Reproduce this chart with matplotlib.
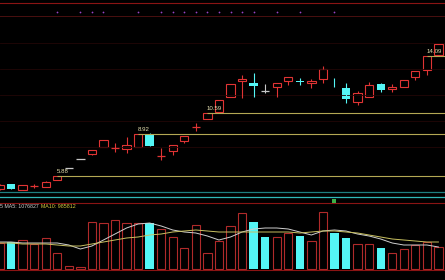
import matplotlib
matplotlib.use('Agg')
import matplotlib.pyplot as plt
import numpy as np

# daily candles, oldest first
opens  = [4.91, 5.28, 4.83, 5.13, 5.06, 5.58, 6.48, 7.16, 7.53, 8.06,
          7.98, 7.91, 8.06, 9.03, 7.38, 7.76, 8.51, 9.56, 10.16, 10.68,
          11.81, 13.01, 12.86, 12.26, 12.56, 13.01, 13.01, 12.86, 13.16, 12.56,
          12.48, 11.43, 11.81, 12.78, 12.41, 12.56, 13.31, 13.83, 14.96]
highs  = [5.28, 5.28, 5.21, 5.28, 5.51, 5.88, 6.48, 7.16, 7.83, 8.58,
          8.36, 8.81, 9.03, 9.11, 7.98, 8.21, 8.88, 9.86, 10.61, 11.58,
          12.78, 13.46, 13.61, 12.78, 12.86, 13.31, 13.23, 13.16, 14.13, 13.23,
          12.86, 12.26, 12.93, 12.86, 12.78, 13.08, 13.76, 14.88, 15.78]
lows   = [4.83, 4.91, 4.83, 4.98, 5.06, 5.58, 6.48, 7.16, 7.46, 8.06,
          7.68, 7.61, 8.06, 8.13, 7.08, 7.46, 8.36, 9.26, 10.16, 10.68,
          11.81, 11.73, 11.81, 12.11, 11.81, 12.71, 12.71, 12.48, 12.86, 12.52,
          11.36, 11.21, 11.81, 12.18, 12.18, 12.56, 13.08, 13.46, 14.96]
closes = [5.21, 4.91, 5.21, 5.13, 5.43, 5.88, 6.48, 7.16, 7.83, 8.58,
          7.98, 8.21, 9.03, 8.13, 7.38, 8.21, 8.88, 9.56, 10.61, 11.58,
          12.78, 13.16, 12.63, 12.26, 12.86, 13.31, 12.93, 13.01, 13.91, 12.52,
          11.66, 12.11, 12.71, 12.33, 12.56, 13.08, 13.76, 14.88, 15.78]
# u = up (red), d = down (cyan), n = flat (gray)
kinds     = "uduuuunnuu" "uuuduuuuuu" "uudnuuduud" "duuduuuuu"
vol_kinds = "uduuuuuuuu" "uuuduuuuuu" "uudduuduud" "duuduuuuu"

volumes = [1170000, 1215000, 1305000, 1125000, 1395000, 720000, 135000, 90000, 2115000, 2070000,
           2205000, 2070000, 2070000, 2070000, 1800000, 1440000, 945000, 1980000, 720000, 1260000,
           1935000, 2520000, 2115000, 1440000, 1440000, 1620000, 1485000, 1260000, 2565000, 1620000,
           1395000, 1125000, 1125000, 945000, 720000, 900000, 1080000, 1215000, 990000]
ma5  = [1215000, 1215000, 1170000, 1170000, 1170000, 1170000, 1080000, 900000, 1035000, 1305000,
        1575000, 1845000, 2025000, 2070000, 1935000, 1755000, 1665000, 1620000, 1485000, 1305000,
        1440000, 1665000, 1800000, 1845000, 1845000, 1800000, 1665000, 1530000, 1710000, 1755000,
        1710000, 1575000, 1485000, 1350000, 1170000, 1080000, 1080000, 1080000, 990000]
ma10 = [1170000, 1170000, 1125000, 1125000, 1125000, 1080000, 1035000, 1035000, 1125000, 1215000,
        1305000, 1395000, 1440000, 1530000, 1575000, 1665000, 1710000, 1755000, 1710000, 1665000,
        1665000, 1665000, 1665000, 1665000, 1665000, 1665000, 1620000, 1665000, 1710000, 1710000,
        1665000, 1620000, 1530000, 1440000, 1350000, 1305000, 1260000, 1215000, 1215000]

mark_idx = [5, 7, 8, 9, 12, 14, 15, 16, 17, 18, 19, 20, 21, 22, 24, 26, 29]
level_idx = [5, 12, 18, 37]
level_text = ['5.88', '8.92', '10.59', '14.09']
signal_idx = [29]

RED = '#e03434'
VRED = '#b02a2a'
CYAN = '#54f6f6'
GRAY = '#c8c8c8'
GOLD = '#b4a854'
BORDER = '#8a1414'
FONT = 'Liberation Sans'

n = len(opens)
x = np.arange(n)
w = 0.72

fig = plt.figure(figsize=(4.45, 2.8), dpi=100, facecolor='black')
axp = fig.add_axes([0, 80/280, 1, 200/280])
axv = fig.add_axes([0, 0, 1, 80/280])
for ax in (axp, axv):
    ax.set_facecolor('black')
    ax.set_xlim(0.043, 38.57)
    ax.set_axis_off()
axp.set_ylim(4.08, 19.08)
axv.set_ylim(-495000, 3105000)

# faint grid + frame lines
for g in [15.855, 13.905, 11.955, 10.005, 8.055]:
    axp.axhline(g, color='#220606', lw=0.6)
axp.axhline(18.855, color=BORDER, lw=0.8)
axp.axhline(17.88, color='#4a1010', lw=0.7)
axp.axhline(4.68, color='#1f7f80', lw=0.9)
axp.axhline(4.305, color='#30b8b8', lw=0.9)

# candles
for i in range(n):
    o, h, l, c = opens[i], highs[i], lows[i], closes[i]
    col = {'u': RED, 'd': CYAN, 'n': GRAY}[kinds[i]]
    top = max(o, c)
    bot = min(o, c)
    if abs(c - o) < 0.02:
        axp.hlines(c, i - w/2, i + w/2, color=col, lw=0.9)
        axp.vlines(i, l, h, color=col, lw=0.8)
    elif kinds[i] == 'd':
        axp.vlines(i, l, h, color=col, lw=0.8)
        axp.bar(i, top - bot, w, bottom=bot, color=col, lw=0)
    else:
        axp.vlines(i, top, h, color=col, lw=0.8)
        axp.vlines(i, l, bot, color=col, lw=0.8)
        axp.bar(i, top - bot, w, bottom=bot, facecolor='black', edgecolor=col, lw=0.8)

# marked levels
for idx, t in zip(level_idx, level_text):
    axp.hlines(highs[idx], idx, 40, color=GOLD, lw=0.8)
    axp.text(idx - 0.05, highs[idx] + 0.12, t, fontsize=4.4, color='#e6e0b0',
             va='bottom', ha='left', family=FONT)

axp.scatter(mark_idx, [18.18] * len(mark_idx), s=1.6, color='#9a44c8', lw=0)

# volume
for i in range(n):
    if vol_kinds[i] == 'd':
        axv.bar(i, volumes[i], w, color=CYAN, lw=0)
    else:
        axv.bar(i, volumes[i], w, facecolor='black', edgecolor=VRED, lw=0.8)
axv.plot(x, ma5, color='#cfcfcf', lw=0.7)
axv.plot(x, ma10, color='#c8c060', lw=0.7)
axv.axhline(2970000, color=BORDER, lw=0.8)
axv.axhline(-45000, color=BORDER, lw=0.8)
axv.scatter(signal_idx, [3060000] * len(signal_idx), marker='s', s=9,
            color='#3cb048', lw=0, clip_on=False, zorder=5)

axv.text(0.0, 0.915, '5 MA5: 1076827', transform=axv.transAxes, fontsize=3.8,
         color='#d0d0d0', va='center', ha='left', family=FONT)
axv.text(0.093, 0.915, 'MA10: 985812', transform=axv.transAxes, fontsize=3.8,
         color='#d8d040', va='center', ha='left', family=FONT)

# header row, cut off at the top edge
fig.text(0.0, 1.004, 'MA5: 13.16', fontsize=4.2, color='#b0b0b0', va='center', family=FONT)
fig.text(0.078, 1.004, 'MA10: 12.98', fontsize=4.2, color='#40c060', va='center', family=FONT)
fig.text(0.165, 1.004, 'MA20: 11.75  MA30: 10.42  MA60: 8.91', fontsize=4.2,
         color='#b0b0b0', va='center', family=FONT)
fig.text(0.92, 1.004, '14.09 15.78', fontsize=4.2, color='#b0b0b0', va='center', family=FONT)

fig.savefig('out.png', dpi=100, facecolor='black')
